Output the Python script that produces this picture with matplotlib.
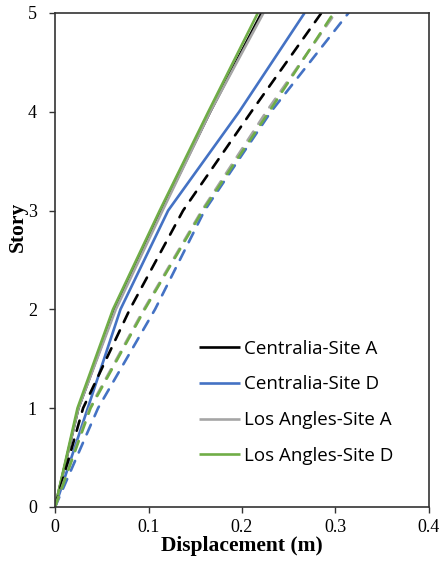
import matplotlib
matplotlib.use("Agg")
import matplotlib.pyplot as plt

story = [0, 1, 2, 3, 4, 5]

# solid lines (legend entries)
cen_a = [0, 0.025, 0.064, 0.114, 0.166, 0.221]
cen_d = [0, 0.035, 0.070, 0.121, 0.197, 0.267]
la_a = [0, 0.025, 0.065, 0.115, 0.166, 0.223]
la_d = [0, 0.024, 0.062, 0.112, 0.164, 0.217]

# dashed lines
cen_a_dash = [0, 0.030, 0.080, 0.137, 0.210, 0.285]
cen_d_dash = [0, 0.046, 0.107, 0.160, 0.231, 0.314]
la_a_dash = [0, 0.037, 0.095, 0.157, 0.226, 0.300]
la_d_dash = [0, 0.038, 0.096, 0.158, 0.229, 0.298]

labels = ['Centralia-Site A', 'Centralia-Site D', 'Los Angles-Site A', 'Los Angles-Site D']
colors = ['#000000', '#4472C4', '#A5A5A5', '#70AD47']

fig = plt.figure(figsize=(4.44, 5.62), dpi=100)
ax = fig.add_axes([0.124, 0.098, 0.842, 0.879])

solid = [cen_a, cen_d, la_a, la_d]
dashed = [cen_a_dash, cen_d_dash, la_a_dash, la_d_dash]

handles = []
for xs, c, lab in zip(solid, colors, labels):
    h, = ax.plot(xs, story, color=c, lw=1.9, label=lab, solid_capstyle='butt')
    handles.append(h)
for xs, c in zip(dashed, colors):
    ax.plot(xs, story, color=c, lw=1.9, dashes=(4, 3.5), dash_capstyle='round')

ax.set_xlim(0, 0.4)
ax.set_ylim(0, 5)
ax.set_xticks([0, 0.1, 0.2, 0.3, 0.4])
ax.set_xticklabels(['0', '0.1', '0.2', '0.3', '0.4'])
ax.set_yticks([0, 1, 2, 3, 4, 5])

for lab in ax.get_xticklabels() + ax.get_yticklabels():
    lab.set_family('Liberation Serif')
    lab.set_fontsize(13)
ax.tick_params(direction='out', length=4, width=1, colors='#333333', labelcolor='black')
ax.tick_params(axis='x', pad=5)
ax.tick_params(axis='y', pad=9)
for s in ax.spines.values():
    s.set_color('#333333')
    s.set_linewidth(1.2)

ax.set_xlabel('Displacement (m)', family='Liberation Serif', fontweight='bold', fontsize=15.5, labelpad=0)
ax.set_ylabel('Story', family='Liberation Serif', fontweight='bold', fontsize=15.5)
ax.yaxis.set_label_coords(-0.072, 0.567)

ax.legend(handles=handles, loc='upper left', bbox_to_anchor=(0.34, 0.373),
          frameon=False, prop={'family': 'Open Sans', 'size': 13.5},
          handlelength=2.2, handletextpad=0.2, labelspacing=0.95)

fig.savefig('out.png', dpi=100)
